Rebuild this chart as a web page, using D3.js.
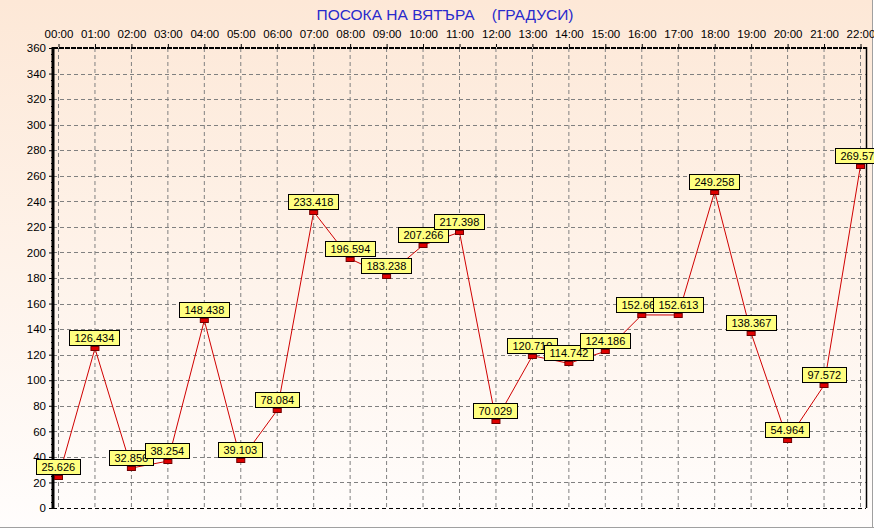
<!DOCTYPE html>
<html><head><meta charset="utf-8">
<script src="https://cdn.jsdelivr.net/npm/d3@7"></script>
<style>
html,body{margin:0;padding:0;background:#fff;}
svg{display:block;}
text{font-family:"Liberation Sans",Arial,sans-serif;}
</style></head>
<body>
<script>
const title = "ПОСОКА НА ВЯТЪРА    (ГРАДУСИ)";
const hours = ["00:00","01:00","02:00","03:00","04:00","05:00","06:00","07:00","08:00","09:00","10:00","11:00","12:00","13:00","14:00","15:00","16:00","17:00","18:00","19:00","20:00","21:00","22:00"];
const values = [25.626,126.434,32.856,38.254,148.438,39.103,78.084,233.418,196.594,183.238,207.266,217.398,70.029,120.710,114.742,124.186,152.662,152.613,249.258,138.367,54.964,97.572,269.578];
const yTicks = [0,20,40,60,80,100,120,140,160,180,200,220,240,260,280,300,320,340,360];

(function(){
const W = 874, H = 529;
const svg = d3.select("body").append("svg").attr("width", W).attr("height", H);

const defs = svg.append("defs");
const grad = defs.append("linearGradient").attr("id","bg").attr("x1",0).attr("y1",0).attr("x2",0).attr("y2",1);
grad.append("stop").attr("offset","0%").attr("stop-color","#fde8d7");
grad.append("stop").attr("offset","100%").attr("stop-color","#fffdfc");
svg.append("rect").attr("width",W).attr("height",H).attr("fill","#ffffff");
svg.append("rect").attr("width",W-1).attr("height",H-1).attr("fill","url(#bg)");
svg.append("line").attr("x1",0).attr("x2",W).attr("y1",527.5).attr("y2",527.5).attr("stroke","#a0a0a0");
svg.append("line").attr("x1",872.5).attr("x2",872.5).attr("y1",0).attr("y2",528).attr("stroke","#a0a0a0");

const pL = 53, pR = 866, pT = 48, pB = 508;
const x = d3.scalePoint().domain(hours).range([58, 860]);
const y = d3.scaleLinear().domain([0,360]).range([pB, pT]);

const g = svg.append("g");
g.selectAll(".vg").data(hours).join("line")
  .attr("x1", d => x(d)+0.5).attr("x2", d => x(d)+0.5)
  .attr("y1", pT).attr("y2", pB)
  .attr("stroke","#808080").attr("stroke-dasharray","4,3");
g.selectAll(".hg").data(yTicks.filter(t => t>0 && t<360)).join("line")
  .attr("x1", pL).attr("x2", pR)
  .attr("y1", d => Math.round(y(d))+0.5).attr("y2", d => Math.round(y(d))+0.5)
  .attr("stroke","#808080").attr("stroke-dasharray","4,3");

svg.append("line").attr("x1",pL).attr("x2",pR).attr("y1",pB+0.5).attr("y2",pB+0.5)
  .attr("stroke","#000").attr("stroke-dasharray","4,3");
svg.append("line").attr("x1",pL).attr("x2",pR).attr("y1",pT).attr("y2",pT)
  .attr("stroke","#000").attr("stroke-width",2).attr("stroke-dasharray","5,1");
svg.append("line").attr("x1",pR+0.5).attr("x2",pR+0.5).attr("y1",pT-1).attr("y2",pB)
  .attr("stroke","#000").attr("stroke-width",1.5);

const yAxis = d3.axisLeft(y).tickValues(yTicks).tickSize(4).tickPadding(3).tickFormat(d3.format("d"));
const ya = svg.append("g").attr("transform",`translate(${pL},0)`).call(yAxis);
ya.select(".domain").remove();
ya.selectAll("line").attr("stroke","#000");
ya.selectAll("text").attr("font-size","11.5px").attr("fill","#000").attr("font-family","Liberation Sans, Arial, sans-serif");
svg.append("g").selectAll("line").data(d3.range(0,361,5).filter(v => v%20)).join("line")
  .attr("x1", pL-2).attr("x2", pL).attr("y1", d => Math.round(y(d))+0.5).attr("y2", d => Math.round(y(d))+0.5)
  .attr("stroke","#000");
svg.append("line").attr("x1",pL).attr("x2",pL).attr("y1",pT-1).attr("y2",pB+1)
  .attr("stroke","#000").attr("stroke-width",3);

const xAxis = d3.axisTop(x).tickSize(3).tickPadding(6);
const xa = svg.append("g").attr("transform",`translate(0.5,${pT-1})`).call(xAxis);
xa.select(".domain").remove();
xa.selectAll("line").attr("stroke","#000");
xa.selectAll("text").attr("font-size","11.5px").attr("fill","#000").attr("font-family","Liberation Sans, Arial, sans-serif");

svg.append("text").attr("x",445).attr("y",20).attr("text-anchor","middle")
  .attr("font-size","15.5px").attr("fill","#2a2acc").style("white-space","pre").text(title);

const pts = hours.map((h,i) => ({h, v: values[i]}));
const line = d3.line().x(d => x(d.h)+0.5).y(d => y(d.v)+2);
svg.append("path").datum(pts).attr("d", line).attr("fill","none").attr("stroke","#d00000").attr("stroke-width",1);

svg.append("g").selectAll("rect").data(pts).join("rect")
  .attr("x", d => x(d.h)-3.5).attr("y", d => Math.round(y(d.v))+0.5)
  .attr("width",8).attr("height",4)
  .attr("fill","#e00000").attr("stroke","#700000").attr("stroke-width",1);

const lg = svg.append("g");
pts.forEach(d => {
  const gg = lg.append("g");
  const r = gg.append("rect");
  const t = gg.append("text").attr("font-size","11px").attr("fill","#000").text(d.v.toFixed(3));
  const tw = t.node().getComputedTextLength();
  const bw = Math.round(tw + 10), bh = 15;
  const bx = Math.round(x(d.h) - bw/2) + 0.5;
  const by = Math.round(y(d.v)) - bh - 0.5;
  r.attr("x", bx).attr("y", by).attr("width", bw).attr("height", bh)
   .attr("fill","#ffff80").attr("stroke","#000").attr("stroke-width",1);
  t.attr("x", bx + 5).attr("y", by + 11.5);
});
})();
</script>
</body></html>
